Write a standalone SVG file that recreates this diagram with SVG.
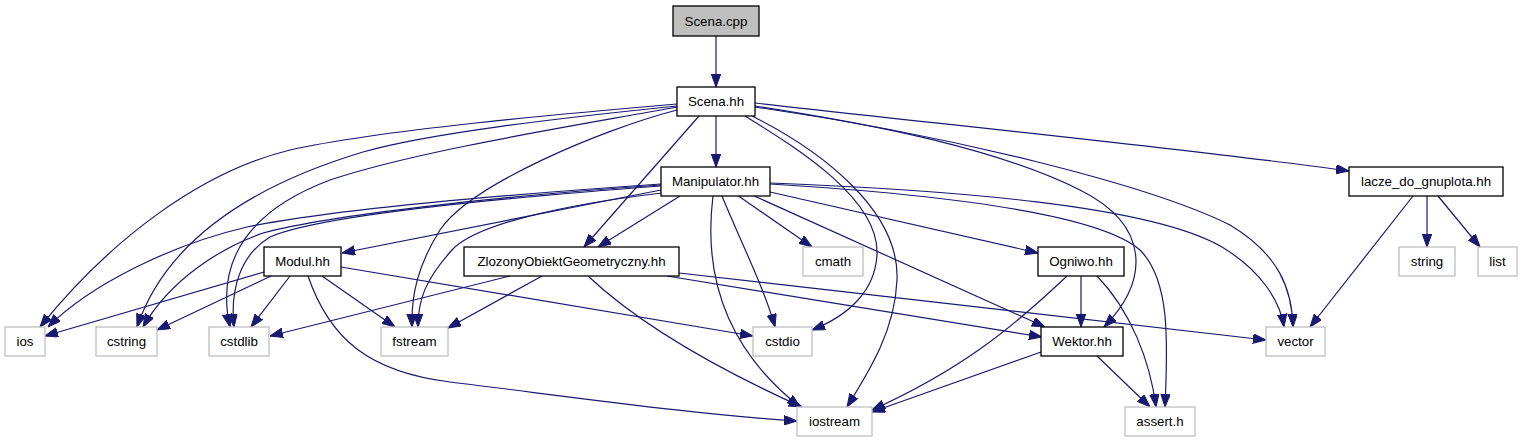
<svg xmlns="http://www.w3.org/2000/svg" width="1521" height="443" viewBox="0 0 1521 443">
<style>
.n rect{fill:#fff;stroke:#000;stroke-width:1.3}
.g rect{fill:#fff;stroke:#bfbfbf;stroke-width:1.3}
.root rect{fill:#bfbfbf;stroke:#000;stroke-width:1.3}
text{font-family:"Liberation Sans",Arial,sans-serif;font-size:13.3px;fill:#000;text-anchor:middle}
#edges path{fill:none;stroke:#191970;stroke-width:1.2;marker-end:url(#ah)}
</style>
<defs>
<marker id="ah" markerUnits="userSpaceOnUse" markerWidth="13" markerHeight="10" refX="13" refY="4.75" orient="auto">
<path d="M0,0 L13,4.75 L0,9.5 z" fill="#191970" stroke="#191970" stroke-width="1"/>
</marker>
</defs>
<rect width="1521" height="443" fill="#fff"/>
<g id="edges">
<path d="M716,36 L716,87"/>
<path d="M716,116 L716,167"/>
<path d="M677,104 C560,114 380,130 290,150 C200,172 110,240 40,327"/>
<path d="M677,106 C560,118 430,133 363,152 C270,180 170,230 137,327"/>
<path d="M677,107 C580,125 420,150 330,180 C250,210 215,260 230,327"/>
<path d="M677,110 C600,130 470,185 440,230 C418,265 411,295 412,327"/>
<path d="M699,116 L584,247"/>
<path d="M745,116 C800,150 880,200 877,255 C875,290 850,315 812,330"/>
<path d="M752,116 C820,150 900,210 897,280 C895,330 870,370 847,407"/>
<path d="M755,106 C880,125 1000,150 1080,190 C1150,225 1150,280 1104,327"/>
<path d="M755,107 C950,135 1150,185 1230,225 C1280,255 1292,290 1293,327"/>
<path d="M755,103 C950,125 1200,150 1349,171"/>
<path d="M661,184 C500,195 330,210 247,227 C170,245 90,285 48,327"/>
<path d="M661,185 C500,196 330,215 263,233 C220,248 170,280 143,327"/>
<path d="M661,186 C500,198 320,215 270,237 C240,255 230,290 234,327"/>
<path d="M661,190 L342,253"/>
<path d="M662,193 C560,205 475,225 452,250 C425,280 418,300 418,327"/>
<path d="M680,196 L598,247"/>
<path d="M713,196 C705,260 715,340 800,407"/>
<path d="M722,196 C740,240 765,290 775,327"/>
<path d="M737,195 L812,247"/>
<path d="M752,195 L1045,327"/>
<path d="M770,192 L1038,253"/>
<path d="M770,184 C950,195 1100,215 1140,250 C1170,280 1168,340 1165,407"/>
<path d="M770,183 C950,190 1150,205 1222,247 C1260,270 1280,300 1284,327"/>
<path d="M264,272 L45,336"/>
<path d="M271,276 L157,330"/>
<path d="M290,276 L251,327"/>
<path d="M322,276 L395,327"/>
<path d="M308,276 C330,340 370,372 450,382 C580,398 700,415 797,421"/>
<path d="M341,267 L753,336"/>
<path d="M510,276 L270,336"/>
<path d="M542,276 L448,328"/>
<path d="M588,276 C640,325 720,370 802,407"/>
<path d="M667,276 L1042,337"/>
<path d="M679,273 L1266,340"/>
<path d="M1067,276 C1010,330 960,370 872,410"/>
<path d="M1081,276 L1081,327"/>
<path d="M1097,276 C1130,310 1150,360 1156,407"/>
<path d="M1041,352 L872,412"/>
<path d="M1097,356 L1150,407"/>
<path d="M1413,196 L1310,327"/>
<path d="M1427,196 L1427,247"/>
<path d="M1438,196 L1480,247"/>
</g>
<g id="scena_cpp" class="root"><rect x="673" y="6" width="86" height="30"/><text x="716" y="25.5">Scena.cpp</text></g>
<g id="scena_hh" class="n"><rect x="677" y="87" width="78" height="29"/><text x="716" y="106">Scena.hh</text></g>
<g id="manipulator_hh" class="n"><rect x="661" y="167" width="109" height="29"/><text x="715.5" y="186">Manipulator.hh</text></g>
<g id="modul_hh" class="n"><rect x="264" y="247" width="77" height="29"/><text x="302.5" y="266">Modul.hh</text></g>
<g id="zlozony_hh" class="n"><rect x="464" y="247" width="215" height="29"/><text x="571.5" y="266">ZlozonyObiektGeometryczny.hh</text></g>
<g id="cmath" class="g"><rect x="803" y="247" width="60" height="29"/><text x="833" y="266">cmath</text></g>
<g id="ogniwo_hh" class="n"><rect x="1038" y="247" width="86" height="29"/><text x="1081" y="266">Ogniwo.hh</text></g>
<g id="lacze_hh" class="n"><rect x="1349" y="167" width="154" height="29"/><text x="1426" y="186">lacze_do_gnuplota.hh</text></g>
<g id="string" class="g"><rect x="1399" y="247" width="56" height="29"/><text x="1427" y="266">string</text></g>
<g id="list" class="g"><rect x="1478" y="247" width="39" height="29"/><text x="1497.5" y="266">list</text></g>
<g id="ios" class="g"><rect x="5" y="327" width="40" height="29"/><text x="25" y="346">ios</text></g>
<g id="cstring" class="g"><rect x="96" y="327" width="61" height="29"/><text x="126.5" y="346">cstring</text></g>
<g id="cstdlib" class="g"><rect x="209" y="327" width="60" height="29"/><text x="239" y="346">cstdlib</text></g>
<g id="fstream" class="g"><rect x="381" y="327" width="67" height="29"/><text x="414.5" y="346">fstream</text></g>
<g id="cstdio" class="g"><rect x="753" y="327" width="59" height="29"/><text x="782.5" y="346">cstdio</text></g>
<g id="wektor_hh" class="n"><rect x="1041" y="327" width="82" height="29"/><text x="1082" y="346">Wektor.hh</text></g>
<g id="vector" class="g"><rect x="1266" y="327" width="59" height="29"/><text x="1295.5" y="346">vector</text></g>
<g id="iostream" class="g"><rect x="797" y="407" width="75" height="29"/><text x="834.5" y="426">iostream</text></g>
<g id="assert_h" class="g"><rect x="1125" y="407" width="70" height="29"/><text x="1160" y="426">assert.h</text></g>
</svg>
